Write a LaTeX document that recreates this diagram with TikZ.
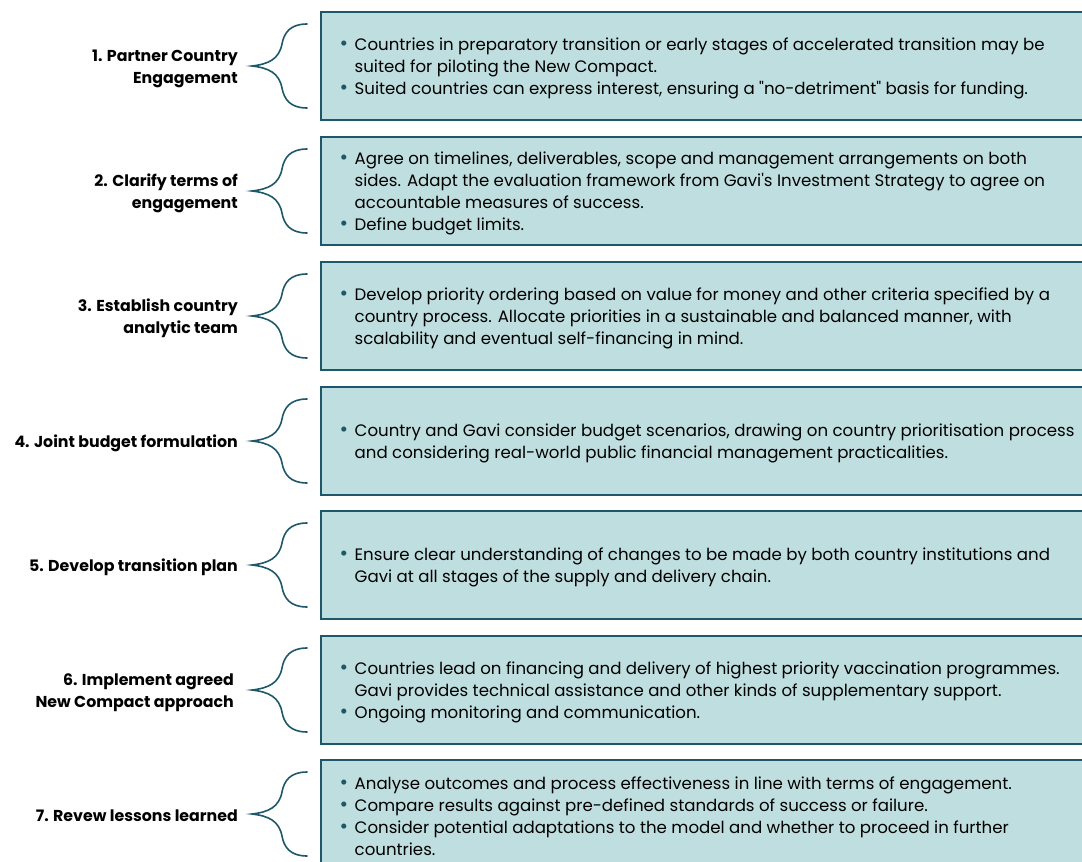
\documentclass[tikz,border=0pt]{standalone}
\usepackage{fontspec}
\setmainfont{Poppins}[Ligatures=TeXOff]
\definecolor{boxfill}{HTML}{BFDEDF}
\definecolor{ink}{HTML}{1E5868}
\newcommand\bul{\makebox[15pt][l]{\raisebox{-0.6pt}{\textcolor{ink}{\scalebox{1.25}{•}}}}}
\newcommand\cont{\hspace*{15pt}}
\tikzset{
  stepbox/.style={draw=ink, line width=2pt, fill=boxfill, minimum width=780pt,
    minimum height=108pt, anchor=north west, inner sep=0pt, outer sep=0pt},
  stepbrace/.style={draw=ink, line width=1.6pt, line cap=round},
  steplabel/.style={font=\bfseries\fontsize{15.8}{22}\selectfont, align=right,
    anchor=east, inner sep=0pt},
  steptext/.style={font=\fontsize{16.6}{22}\selectfont, align=left,
    anchor=west, inner sep=0pt},
}
\begin{document}
\begin{tikzpicture}[x=1pt,y=-1pt]
\useasboundingbox (0,0) rectangle (1082,862);
\clip (0,0) rectangle (1082,862);

% boxes with their bullet lists
\node[stepbox] (b1) at (321,12) {};
\node[steptext] (t1) at (339.5,68) {\bul Countries in preparatory transition or early stages of accelerated transition may be\\
\cont suited for piloting the New Compact.\\
\bul Suited countries can express interest, ensuring a "no-detriment" basis for funding.};

\node[stepbox] (b2) at (321,137) {};
\node[steptext] (t2) at (339.5,193) {\bul Agree on timelines, deliverables, scope and management arrangements on both\\
\cont sides. Adapt the evaluation framework from Gavi's Investment Strategy to agree on\\
\cont accountable measures of success.\\
\bul Define budget limits.};

\node[stepbox] (b3) at (321,262) {};
\node[steptext] (t3) at (339.5,318) {\bul Develop priority ordering based on value for money and other criteria specified by a\\
\cont country process. Allocate priorities in a sustainable and balanced manner, with\\
\cont scalability and eventual self-financing in mind.};

\node[stepbox] (b4) at (321,387) {};
\node[steptext] (t4) at (339.5,443) {\bul Country and Gavi consider budget scenarios, drawing on country prioritisation process\\
\cont and considering real-world public financial management practicalities.};

\node[stepbox] (b5) at (321,511) {};
\node[steptext] (t5) at (339.5,567) {\bul Ensure clear understanding of changes to be made by both country institutions and\\
\cont Gavi at all stages of the supply and delivery chain.};

\node[stepbox] (b6) at (321,636) {};
\node[steptext] (t6) at (339.5,692) {\bul Countries lead on financing and delivery of highest priority vaccination programmes.\\
\cont Gavi provides technical assistance and other kinds of supplementary support.\\
\bul Ongoing monitoring and communication.};

\node[stepbox] (b7) at (321,760) {};
\node[steptext] (t7) at (339.5,816) {\bul Analyse outcomes and process effectiveness in line with terms of engagement.\\
\bul Compare results against pre-defined standards of success or failure.\\
\bul Consider potential adaptations to the model and whether to proceed in further\\
\cont countries.};

% step labels
\node[steplabel] (l1) at (238,68.5) {1. Partner Country\\Engagement};
\node[steplabel] (l2) at (238,193.5) {2. Clarify terms of\\engagement};
\node[steplabel] (l3) at (238,318.5) {3. Establish country\\analytic team};
\node[steplabel] (l4) at (238,443) {4. Joint budget formulation};
\node[steplabel] (l5) at (238,567) {5. Develop transition plan};
\node[steplabel] (l6) at (234,692.5) {6. Implement agreed\\New Compact approach};
\node[steplabel] (l7) at (238,816) {7. Revew lessons learned};

% curly braces joining each label to its box
\foreach \top in {12,137,262,387,511,636,760}{
  \begin{scope}[shift={(0,\top)}]
    \draw[stepbrace] (307,12) .. controls (290,12) and (284,21) .. (282,32)
      .. controls (279,47) and (269,52) .. (252,54)
      .. controls (269,56) and (279,61) .. (282,76)
      .. controls (284,87) and (290,96) .. (307,96);
  \end{scope}
}
\end{tikzpicture}
\end{document}
